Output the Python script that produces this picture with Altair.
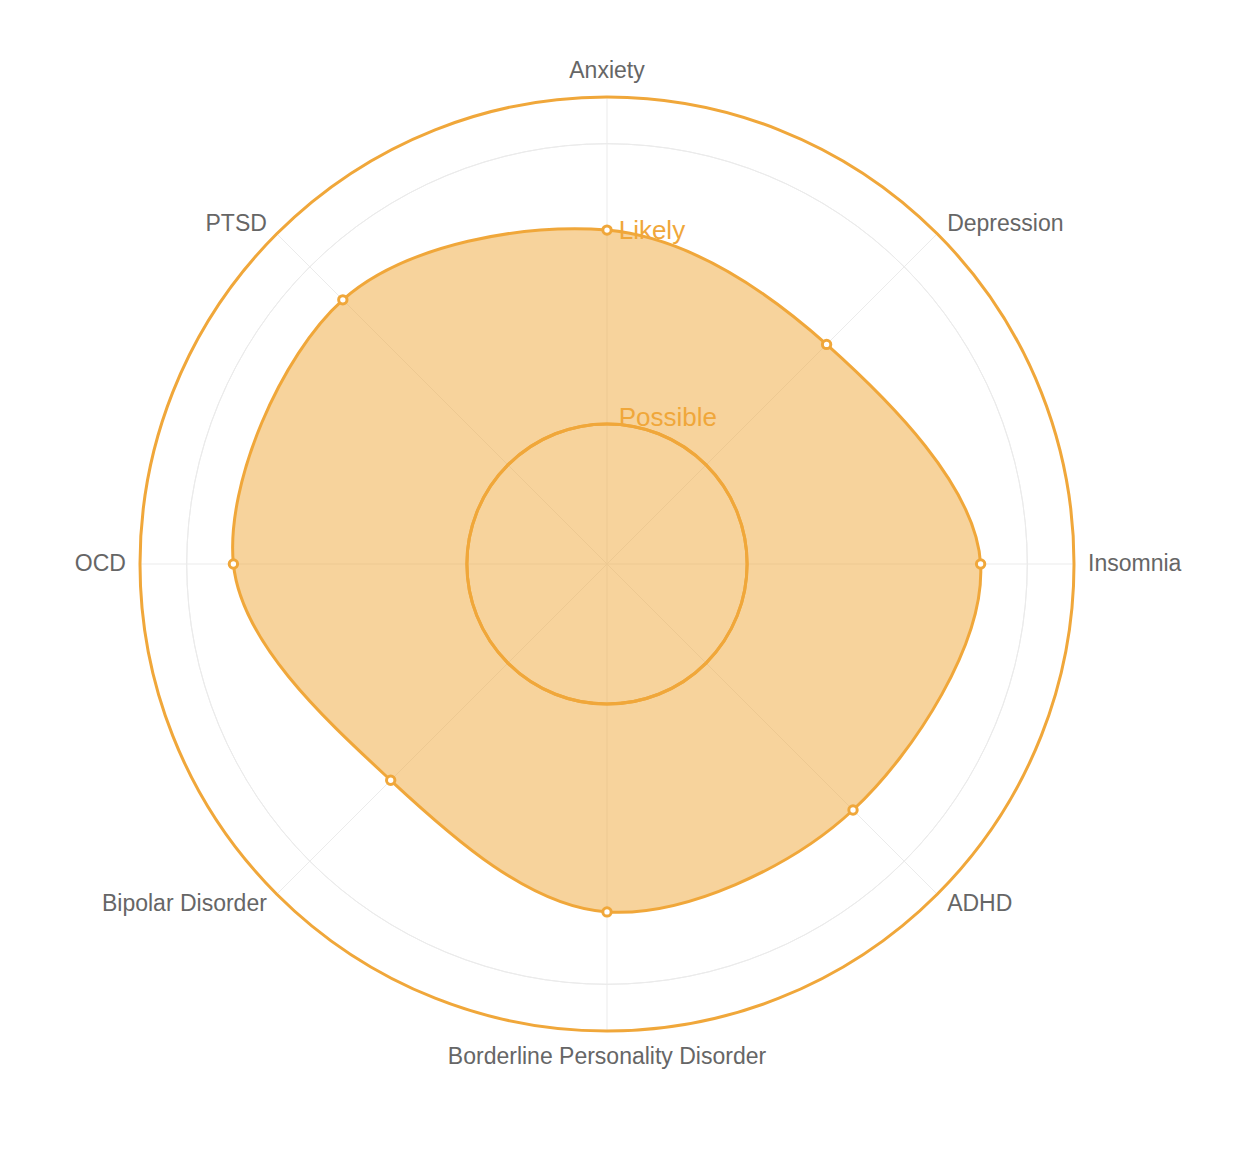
import altair as alt
import pandas as pd
import math

categories = ["Anxiety", "Depression", "Insomnia", "ADHD", "Borderline Personality Disorder",
              "Bipolar Disorder", "OCD", "PTSD"]
values = [0.715, 0.665, 0.80, 0.745, 0.745, 0.655, 0.80, 0.80]
ring_labels = ["Possible", "Likely"]
ring_values = [0.30, 0.70]
grid_values = [0.3, 0.6, 0.9, 1.0]

ORANGE = "#F0A73A"
n = len(categories)
df = pd.DataFrame({"cat": categories, "v": values, "i": list(range(n))})
df["ang"] = df["i"] * 2 * math.pi / n
df["align"] = ["center", "left", "left", "left", "center", "right", "right", "right"]

R = 467
xs = alt.Scale(domain=[-1, 1], range=[0, 2 * R])
ys = alt.Scale(domain=[-1, 1], range=[2 * R, 0])
rs = alt.Scale(type="linear", domain=[0, 1], range=[0, R], zero=True, nice=False)
X = lambda f: alt.X(f, type="quantitative", scale=xs, axis=None)
Y = lambda f: alt.Y(f, type="quantitative", scale=ys, axis=None)

base = alt.Chart(df).transform_calculate(
    px="datum.v*sin(datum.ang)", py="datum.v*cos(datum.ang)",
    gx="sin(datum.ang)", gy="cos(datum.ang)",
    lx="1.03*sin(datum.ang)", ly="1.03*cos(datum.ang)", zero="0")

grid_df = pd.DataFrame({"g": grid_values})
rings = alt.Chart(grid_df).mark_arc(fill=None, stroke="#ebebeb", strokeWidth=1, theta=0, theta2=2 * math.pi).encode(
    radius=alt.Radius("g:Q", scale=rs))
spokes = base.mark_rule(color="#ebebeb", strokeWidth=1).encode(
    x=X("zero"), y=Y("zero"), x2="gx:Q", y2="gy:Q")

shape = base.mark_line(interpolate="cardinal-closed", fill=ORANGE, fillOpacity=0.5,
                       stroke=ORANGE, strokeWidth=3).encode(
    x=X("px"), y=Y("py"), order="i:Q")

rdf = pd.DataFrame({"lab": ring_labels, "r": ring_values})
lrings = alt.Chart(rdf).mark_arc(fill=None, stroke=ORANGE, strokeWidth=3, theta=0, theta2=2 * math.pi).encode(
    radius=alt.Radius("r:Q", scale=rs))
rtext = alt.Chart(rdf).transform_calculate(zx="0.025", ty="datum.r").mark_text(
    align="left", baseline="middle", dy=-6, fontSize=26, color=ORANGE, font="Helvetica, Arial, sans-serif").encode(
    x=X("zx"), y=Y("ty"), text="lab:N")

pts = base.mark_point(filled=True, fill="white", stroke=ORANGE, strokeWidth=3, size=70, opacity=1).encode(
    x=X("px"), y=Y("py"))

def labels(al, cond, dy=0):
    return base.transform_filter(cond).mark_text(
        align=al, baseline="middle", dy=dy, fontSize=23, color="#666666",
        font="Helvetica, Arial, sans-serif").encode(x=X("lx"), y=Y("ly"), text="cat:N")

chart = alt.layer(rings, spokes, shape, lrings, pts, rtext,
                  labels("center", alt.datum.i == 0, -12),
                  labels("center", alt.datum.i == 4, 12),
                  labels("left", alt.datum.align == "left"),
                  labels("right", alt.datum.align == "right")).resolve_scale(
    radius="shared").properties(
    width=2 * R, height=2 * R,
    padding={"left": 132, "top": 89, "right": 120, "bottom": 60},
    autosize=alt.AutoSizeParams(type="none")
).configure_view(stroke=None)

chart.save("out.html", embed_options={"renderer": "svg", "actions": False})
